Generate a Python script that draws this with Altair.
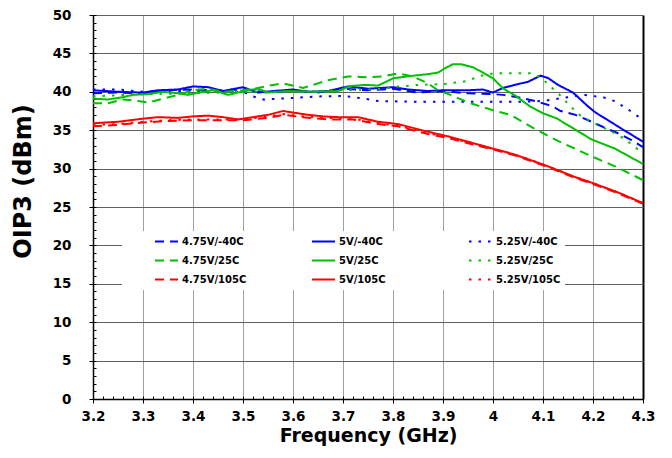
import altair as alt
import pandas as pd

# ---- Data (frequency in GHz, OIP3 in dBm) ----
freq_475_m40 = [3.20, 3.25, 3.30, 3.35, 3.40, 3.45, 3.50, 3.55, 3.60, 3.65, 3.70, 3.75, 3.80, 3.85,
                3.90, 3.95, 4.00, 4.02, 4.05, 4.09, 4.12, 4.135, 4.165, 4.197, 4.224, 4.25, 4.277, 4.30]
oip3_475_m40 = [39.8, 39.9, 39.8, 40.2, 40.3, 40.2, 40.3, 39.9, 40.2, 39.9, 40.4, 40.2, 40.4, 39.9,
                40.1, 39.8, 39.7, 39.6, 39.3, 38.7, 38.1, 37.5, 37.0, 36.1, 35.3, 34.6, 33.7, 32.8]

freq_5_m40 = [3.20, 3.25, 3.30, 3.33, 3.37, 3.40, 3.43, 3.46, 3.50, 3.53, 3.56, 3.60, 3.63, 3.67,
              3.71, 3.75, 3.80, 3.83, 3.87, 3.90, 3.95, 3.98, 4.00, 4.02, 4.05, 4.07, 4.095, 4.11,
              4.13, 4.16, 4.19, 4.205, 4.23, 4.257, 4.30]
oip3_5_m40 = [40.2, 40.0, 39.9, 40.2, 40.3, 40.7, 40.6, 40.1, 40.6, 39.9, 40.1, 40.3, 40.0, 40.1,
              40.7, 40.4, 40.6, 40.3, 40.1, 40.2, 40.2, 40.3, 39.9, 40.5, 41.0, 41.3, 42.1, 41.8,
              40.9, 39.9, 38.1, 37.3, 36.3, 35.2, 33.5]

freq_525_m40 = [3.20, 3.25, 3.30, 3.35, 3.40, 3.45, 3.50, 3.52, 3.54, 3.60, 3.65, 3.70, 3.74,
                3.77, 3.85, 3.95, 4.05, 4.10, 4.14, 4.18, 4.22, 4.247, 4.26, 4.275, 4.29, 4.30]
oip3_525_m40 = [40.3, 40.3, 40.0, 40.1, 40.1, 40.0, 40.0, 39.4, 39.0, 39.2, 39.4, 39.45, 39.15,
                38.8, 38.7, 38.7, 38.7, 38.8, 39.2, 39.6, 39.3, 38.7, 38.1, 37.5, 36.8, 36.3]

freq_475_25 = [3.20, 3.23, 3.26, 3.29, 3.31, 3.34, 3.37, 3.40, 3.43, 3.46, 3.50, 3.53, 3.56, 3.58,
               3.62, 3.65, 3.67, 3.71, 3.75, 3.78, 3.81, 3.84, 3.87, 3.89, 3.915, 3.947, 3.97,
               4.00, 4.035, 4.08, 4.13, 4.164, 4.197, 4.244, 4.30]
oip3_475_25 = [38.5, 38.5, 39.0, 38.8, 38.6, 39.1, 39.6, 40.2, 40.4, 40.0, 40.2, 40.5, 40.9, 41.1,
               40.5, 41.1, 41.5, 42.0, 41.9, 42.0, 42.4, 42.0, 41.1, 40.2, 39.6, 38.7, 38.2,
               37.6, 37.0, 35.3, 33.6, 32.6, 31.6, 30.3, 28.5]

freq_5_25 = [3.20, 3.23, 3.26, 3.28, 3.31, 3.34, 3.37, 3.39, 3.42, 3.44, 3.47, 3.51, 3.53, 3.55,
             3.59, 3.64, 3.69, 3.714, 3.747, 3.77, 3.80, 3.834, 3.87, 3.89, 3.905, 3.92, 3.935,
             3.96, 3.98, 4.00, 4.02, 4.047, 4.074, 4.10, 4.127, 4.164, 4.197, 4.244, 4.30]
oip3_5_25 = [39.1, 39.0, 39.3, 39.6, 39.7, 40.0, 39.8, 39.6, 40.0, 40.2, 39.6, 40.2, 40.4, 39.9,
             40.1, 40.0, 40.1, 40.75, 40.9, 40.8, 41.75, 42.05, 42.3, 42.5, 43.1, 43.6, 43.6,
             43.2, 42.5, 41.75, 40.45, 39.4, 38.1, 37.2, 36.55, 35.1, 33.8, 32.6, 30.6]

freq_525_25 = [3.20, 3.30, 3.40, 3.50, 3.60, 3.70, 3.76, 3.80, 3.85, 3.90, 3.95, 3.97, 4.00, 4.08,
               4.10, 4.12, 4.135, 4.155, 4.175, 4.197, 4.244, 4.265, 4.285, 4.30]
oip3_525_25 = [39.4, 39.7, 39.8, 40.0, 40.0, 40.2, 40.3, 40.6, 40.9, 41.0, 41.4, 42.0, 42.4, 42.4,
               41.6, 40.4, 39.5, 38.1, 36.9, 36.1, 34.6, 33.8, 32.7, 32.2]

freq_5_105 = [3.20, 3.25, 3.30, 3.33, 3.37, 3.40, 3.43, 3.46, 3.49, 3.52, 3.55, 3.58, 3.60, 3.63,
              3.66, 3.69, 3.73, 3.77, 3.81, 3.87, 3.91, 3.95, 4.00, 4.04, 4.08, 4.11, 4.16, 4.20,
              4.25, 4.30]
oip3_5_105 = [35.9, 36.1, 36.5, 36.7, 36.6, 36.8, 36.9, 36.7, 36.4, 36.7, 37.0, 37.5, 37.3, 37.0,
              36.8, 36.7, 36.7, 36.1, 35.8, 34.8, 34.2, 33.5, 32.6, 31.9, 31.0, 30.3, 29.0, 28.1,
              26.9, 25.5]

freq_red_alt = [3.20, 3.25, 3.30, 3.35, 3.40, 3.45, 3.50, 3.55, 3.58, 3.62, 3.67, 3.72, 3.77, 3.81,
                3.87, 3.91, 3.95, 4.00, 4.04, 4.08, 4.11, 4.16, 4.20, 4.25, 4.30]
oip3_475_105 = [35.5, 35.7, 36.0, 36.2, 36.3, 36.3, 36.3, 36.6, 37.0, 36.7, 36.4, 36.4, 35.8, 35.5,
                34.5, 34.0, 33.3, 32.5, 31.8, 30.9, 30.2, 28.9, 28.0, 26.8, 25.4]
oip3_525_105 = [35.7, 35.8, 36.1, 36.3, 36.4, 36.4, 36.4, 36.8, 37.1, 36.8, 36.6, 36.5, 35.9, 35.6,
                34.6, 34.1, 33.4, 32.6, 31.9, 31.0, 30.3, 29.0, 28.1, 26.9, 25.5]

series_names = ["4.75V/-40C", "5V/-40C", "5.25V/-40C",
                "4.75V/25C", "5V/25C", "5.25V/25C",
                "4.75V/105C", "5V/105C", "5.25V/105C"]
series_colors = ["#0000FF"] * 3 + ["#00C000"] * 3 + ["#FF0000"] * 3
series_dash = [[9, 6], [1, 0], [2.5, 7]] * 3

x_major = [3.2, 3.3, 3.4, 3.5, 3.6, 3.7, 3.8, 3.9, 4.0, 4.1, 4.2, 4.3]
y_major = [0, 5, 10, 15, 20, 25, 30, 35, 40, 45, 50]
x_minor = [round(3.2 + 0.02 * i, 2) for i in range(56)]
y_minor = list(range(0, 51))

curves = [
    ("4.75V/-40C", freq_475_m40, oip3_475_m40),
    ("5V/-40C", freq_5_m40, oip3_5_m40),
    ("5.25V/-40C", freq_525_m40, oip3_525_m40),
    ("4.75V/25C", freq_475_25, oip3_475_25),
    ("5V/25C", freq_5_25, oip3_5_25),
    ("5.25V/25C", freq_525_25, oip3_525_25),
    ("4.75V/105C", freq_red_alt, oip3_475_105),
    ("5V/105C", freq_5_105, oip3_5_105),
    ("5.25V/105C", freq_red_alt, oip3_525_105),
]
rows = []
for name, fs, vs in curves:
    for f, v in zip(fs, vs):
        rows.append({"series": name, "freq": f, "oip3": v})
df = pd.DataFrame(rows)

FONT = "DejaVu Sans"
W, H = 550, 384
xscale = alt.Scale(domain=[3.2, 4.3], nice=False, zero=False)
yscale = alt.Scale(domain=[0, 50], nice=False)

base = alt.Chart(df)

lines = base.mark_line(strokeWidth=2, clip=True).encode(
    x=alt.X("freq:Q", scale=xscale, axis=alt.Axis(
        orient="bottom", values=x_major, format="~g", title="Frequency (GHz)",
        grid=True,
        gridColor={"condition": {"test": "datum.value > 4.29", "value": "#000000"}, "value": "#a0a0a0"},
        gridWidth={"condition": {"test": "datum.value > 4.29", "value": 2}, "value": 1},
        tickSize=4, tickColor="#000000", domainColor="#000000", domainWidth=1.5,
        labelFont=FONT, labelFontWeight="bold", labelFontSize=13.5, labelColor="#000000",
        labelPadding=6, labelFlush=False,
        titleFont=FONT, titleFontWeight="bold", titleFontSize=19, titleColor="#000000",
        titleY=42, titleBaseline="alphabetic")),
    y=alt.Y("oip3:Q", scale=yscale, axis=alt.Axis(
        orient="left", values=y_major, title="OIP3 (dBm)",
        grid=True, gridColor="#606060", gridWidth=1,
        tickSize=4, tickColor="#000000", domainColor="#000000", domainWidth=1.5,
        labelFont=FONT, labelFontWeight="bold", labelFontSize=13.5, labelColor="#000000",
        labelPadding=18, labelFlush=False,
        titleFont=FONT, titleFontWeight="bold", titleFontSize=24, titleColor="#000000",
        titleX=-70, titleY=166, titleAngle=270, titleBaseline="middle", titleAlign="center")),
    color=alt.Color("series:N", scale=alt.Scale(domain=series_names, range=series_colors),
                    legend=alt.Legend(
                        title=" ", titleOrient="left", titlePadding=28, titleFontSize=10,
                        orient="none", legendX=29, legendY=216, columns=3,
                        direction="horizontal",
                        gridAlign="all", columnPadding=64, rowPadding=6, clipHeight=13,
                        symbolType="stroke", symbolSize=529, symbolStrokeWidth=2,
                        labelFont=FONT, labelFontWeight="bold", labelFontSize=10,
                        labelColor="#000000", labelOffset=3,
                        fillColor="#ffffff", padding=4)),
    strokeDash=alt.StrokeDash("series:N", scale=alt.Scale(domain=series_names, range=series_dash)),
)

minor = base.mark_line(strokeOpacity=0).encode(
    x=alt.X("freq:Q", scale=xscale, axis=alt.Axis(
        orient="top", offset=-H, values=x_minor, labels=False, domain=False, grid=False,
        tickSize=3, tickColor="#000000", title=None)),
    y=alt.Y("oip3:Q", scale=yscale, axis=alt.Axis(
        orient="right", offset=-W, values=y_minor, labels=False, domain=False, grid=False,
        tickSize=3, tickColor="#000000", title=None)),
    detail="series:N",
)

chart = alt.layer(lines, minor).resolve_axis(x="independent", y="independent").properties(
    width=W, height=H,
    padding={"left": 85, "top": 7, "right": 20, "bottom": 55},
    autosize=alt.AutoSizeParams(type="none"),
    background="#ffffff",
).configure_view(stroke=None)

chart.save("out.html", embed_options={"renderer": "svg", "actions": False})
